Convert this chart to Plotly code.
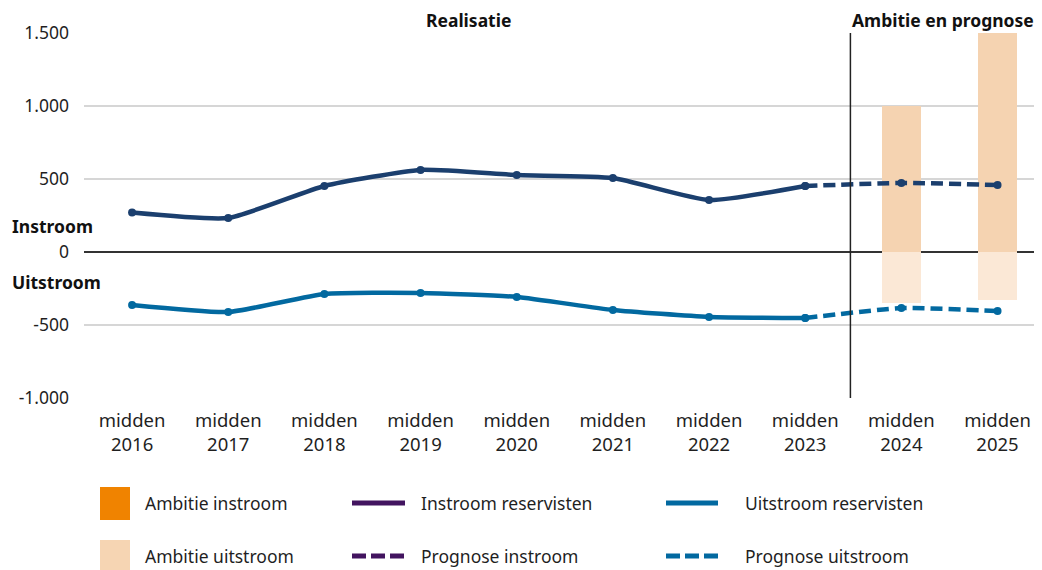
import plotly.graph_objects as go

# data
years = ["2016", "2017", "2018", "2019", "2020", "2021", "2022", "2023", "2024", "2025"]
instroom = [270, 233, 452, 562, 527, 507, 356, 452]
uitstroom = [-363, -411, -288, -281, -308, -397, -445, -452]
prognose_instroom = [452, 473, 459]
prognose_uitstroom = [-452, -384, -404]
ambitie_instroom = [1000, 1500]
ambitie_uitstroom = [-350, -330]

y_ticks = [-1000, -500, 0, 500, 1000, 1500]
y_ticktext = ["-1.000", "-500", "0", "500", "1.000", "1.500"]

NAVY = "#1b3f6e"
BLUE = "#0269a0"
PURPLE = "#42145f"
ORANGE = "#f08300"
PEACH = "#f6d5b3"
BAR_IN = "#f5d3b1"
BAR_OUT = "#fbe8d6"
FONT = "Noto Sans"
TXT = "#1f1f1f"
FS = 17.5

x_real = list(range(len(instroom)))
x_prog = list(range(len(instroom) - 1, len(years)))
x_amb = x_prog[1:]

fig = go.Figure()
fig.add_trace(go.Bar(x=x_amb, y=ambitie_instroom, width=0.4, marker=dict(color=BAR_IN, line=dict(width=0)),
                     name="Ambitie instroom"))
fig.add_trace(go.Bar(x=x_amb, y=ambitie_uitstroom, width=0.4, marker=dict(color=BAR_OUT, line=dict(width=0)),
                     name="Ambitie uitstroom"))

line_kw = dict(shape="spline", smoothing=0.5, width=4.5)
fig.add_trace(go.Scatter(x=x_prog, y=prognose_instroom, mode="lines+markers",
                         line=dict(color=NAVY, dash="12px,6px", **line_kw),
                         marker=dict(size=8, color=NAVY), name="Prognose instroom"))
fig.add_trace(go.Scatter(x=x_prog, y=prognose_uitstroom, mode="lines+markers",
                         line=dict(color=BLUE, dash="12px,6px", **line_kw),
                         marker=dict(size=8, color=BLUE), name="Prognose uitstroom"))
fig.add_trace(go.Scatter(x=x_real, y=instroom, mode="lines+markers",
                         line=dict(color=NAVY, **line_kw),
                         marker=dict(size=8, color=NAVY), name="Instroom reservisten"))
fig.add_trace(go.Scatter(x=x_real, y=uitstroom, mode="lines+markers",
                         line=dict(color=BLUE, **line_kw),
                         marker=dict(size=8, color=BLUE), name="Uitstroom reservisten"))

# separator between realisatie and prognose
shapes = [dict(type="line", xref="x", yref="paper", x0=7.47, x1=7.47, y0=0, y1=1,
               line=dict(color="#222222", width=1.5), layer="above")]

annotations = [
    dict(text="<b>Realisatie</b>", xref="x", yref="paper", x=3.5, y=1, yanchor="bottom",
         yshift=-1, showarrow=False, font=dict(size=FS, color="#111")),
    dict(text="<b>Ambitie en prognose</b>", xref="x", yref="paper", x=8.43, y=1, yanchor="bottom",
         yshift=-1, showarrow=False, font=dict(size=FS, color="#111")),
    dict(text="<b>Instroom</b>", xref="paper", yref="paper", x=-0.078, y=0.47, xanchor="left",
         yanchor="middle", showarrow=False, font=dict(size=FS, color="#111")),
    dict(text="<b>Uitstroom</b>", xref="paper", yref="paper", x=-0.078, y=0.318, xanchor="left",
         yanchor="middle", showarrow=False, font=dict(size=FS, color="#111")),
]

# hand-drawn legend below the plot (page pixels -> paper coords)
def px_x(p):
    return (p - 84) / 952

def px_y(p):
    return (398 - p) / 365

legend_rows = [503, 556]
shapes += [
    dict(type="rect", xref="paper", yref="paper", x0=px_x(100), x1=px_x(130), y0=px_y(520), y1=px_y(487),
         fillcolor=ORANGE, line=dict(width=0)),
    dict(type="rect", xref="paper", yref="paper", x0=px_x(100), x1=px_x(130), y0=px_y(572), y1=px_y(540),
         fillcolor=PEACH, line=dict(width=0)),
]
for (x0, x1, col) in [(352, 405, PURPLE), (666, 718, BLUE)]:
    shapes.append(dict(type="line", xref="paper", yref="paper", x0=px_x(x0), x1=px_x(x1),
                       y0=px_y(legend_rows[0]), y1=px_y(legend_rows[0]), line=dict(color=col, width=5)))
    shapes.append(dict(type="line", xref="paper", yref="paper", x0=px_x(x0), x1=px_x(x1),
                       y0=px_y(legend_rows[1]), y1=px_y(legend_rows[1]),
                       line=dict(color=col, width=5, dash="14px,5px")))

legend_text = [
    ("Ambitie instroom", 143, 0), ("Instroom reservisten", 419, 0), ("Uitstroom reservisten", 743, 0),
    ("Ambitie uitstroom", 143, 1), ("Prognose instroom", 419, 1), ("Prognose uitstroom", 743, 1),
]
for txt, xp, row in legend_text:
    annotations.append(dict(text=txt, xref="paper", yref="paper", x=px_x(xp), y=px_y(legend_rows[row]),
                            xanchor="left", yanchor="middle", showarrow=False,
                            font=dict(size=FS, color=TXT)))

# page has an 8px body margin, so the figure is 8px smaller than the window
fig.update_layout(
    width=1034, height=562,
    margin=dict(l=76, r=6, t=25, b=172),
    paper_bgcolor="white", plot_bgcolor="white",
    font=dict(family=FONT, size=FS, color=TXT),
    barmode="relative", bargap=0,
    showlegend=False,
    shapes=shapes, annotations=annotations,
    xaxis=dict(range=[-0.5, 9.4], tickvals=list(range(len(years))),
               ticktext=["midden<br>" + y for y in years], showgrid=False, zeroline=False,
               showline=False, ticks="", ticklabelstandoff=9, tickfont=dict(size=18.5, color=TXT)),
    yaxis=dict(range=[-1000, 1500], tickvals=y_ticks, ticktext=y_ticktext,
               showgrid=True, gridcolor="#d6d6d6", gridwidth=1.5,
               zeroline=True, zerolinecolor="#333333", zerolinewidth=1.5,
               showline=False, ticks="", ticklabelstandoff=14, tickfont=dict(size=FS, color=TXT)),
)

fig.write_html("out.html")
